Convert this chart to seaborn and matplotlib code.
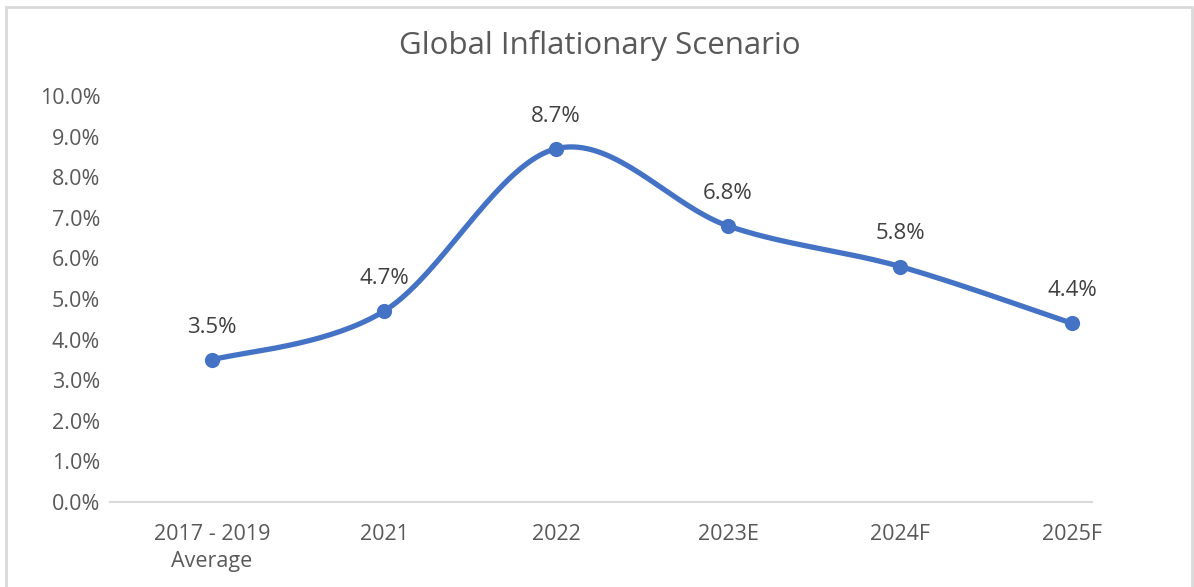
import numpy as np
import pandas as pd
import seaborn as sns
import matplotlib.pyplot as plt
from matplotlib.patches import Rectangle

# data
roky = ['2017 - 2019\nAverage', '2021', '2022', '2023E', '2024F', '2025F']
inflace = [3.5, 4.7, 8.7, 6.8, 5.8, 4.4]
popisky = ['3.5%', '4.7%', '8.7%', '6.8%', '5.8%', '4.4%']

df = pd.DataFrame({'rok': roky, 'inflace': inflace, 'poz': range(len(roky))})

sns.set_theme(style='white')
plt.rcParams['font.family'] = ['Open Sans', 'DejaVu Sans']

seda = '#595959'
modra = '#4472C4'

fig = plt.figure(figsize=(11.94, 5.87), dpi=100)
ax = fig.add_axes([0.0921, 0.1448, 0.8225, 0.6917])


# hladka krivka jako v Excelu (Bezier pres Catmull-Rom body)
def hladka(x, y, n=40):
    x = np.asarray(x, float)
    y = np.asarray(y, float)
    px = np.concatenate([[x[0]], x, [x[-1]]])
    py = np.concatenate([[y[0]], y, [y[-1]]])
    xs, ys = [], []
    t = np.linspace(0, 1, n)
    for i in range(1, len(px) - 2):
        p0 = np.array([px[i], py[i]])
        p3 = np.array([px[i + 1], py[i + 1]])
        p1 = p0 + (np.array([px[i + 1], py[i + 1]]) - np.array([px[i - 1], py[i - 1]])) / 6
        p2 = p3 - (np.array([px[i + 2], py[i + 2]]) - np.array([px[i], py[i]])) / 6
        b = ((1 - t) ** 3)[:, None] * p0 + (3 * (1 - t) ** 2 * t)[:, None] * p1 \
            + (3 * (1 - t) * t ** 2)[:, None] * p2 + (t ** 3)[:, None] * p3
        xs.extend(b[:, 0])
        ys.extend(b[:, 1])
    return np.array(xs), np.array(ys)


kx, ky = hladka(df['poz'], df['inflace'])
sns.lineplot(x=kx, y=ky, ax=ax, color=modra, linewidth=3.8, sort=False)
sns.scatterplot(data=df, x='poz', y='inflace', ax=ax, color=modra, s=120,
                edgecolor=modra, linewidth=0, zorder=5)

for i, r in df.iterrows():
    ax.annotate(popisky[i], (r['poz'], r['inflace']), xytext=(0, 16),
                textcoords='offset points', ha='center', va='bottom',
                fontsize=16, color='#404040')

ax.set_xlim(-0.593, 5.116)
ax.set_ylim(0, 10)
ax.set_yticks(np.arange(0, 10.01, 1))
ax.set_yticklabels([f'{v:.1f}%' for v in np.arange(0, 10.01, 1)])
ax.set_xticks(df['poz'])
ax.set_xticklabels(roky, linespacing=1.35)
ax.tick_params(axis='both', labelsize=15.5, labelcolor=seda, length=0)
ax.tick_params(axis='y', pad=7)
ax.tick_params(axis='x', pad=16)
ax.set_xlabel('')
ax.set_ylabel('')

for s in ['top', 'right', 'left']:
    ax.spines[s].set_visible(False)
ax.spines['bottom'].set_color('#d9d9d9')
ax.spines['bottom'].set_linewidth(1.5)

fig.text(0.5025, 0.922, 'Global Inflationary Scenario', ha='center', va='center',
         fontsize=22.5, color=seda)

# ramecek okolo grafu
fig.patches.append(Rectangle((0.005, -0.05), 0.993, 1.038, transform=fig.transFigure,
                             fill=False, edgecolor='#d9d9d9', linewidth=2))

fig.savefig('out.png', dpi=100)
